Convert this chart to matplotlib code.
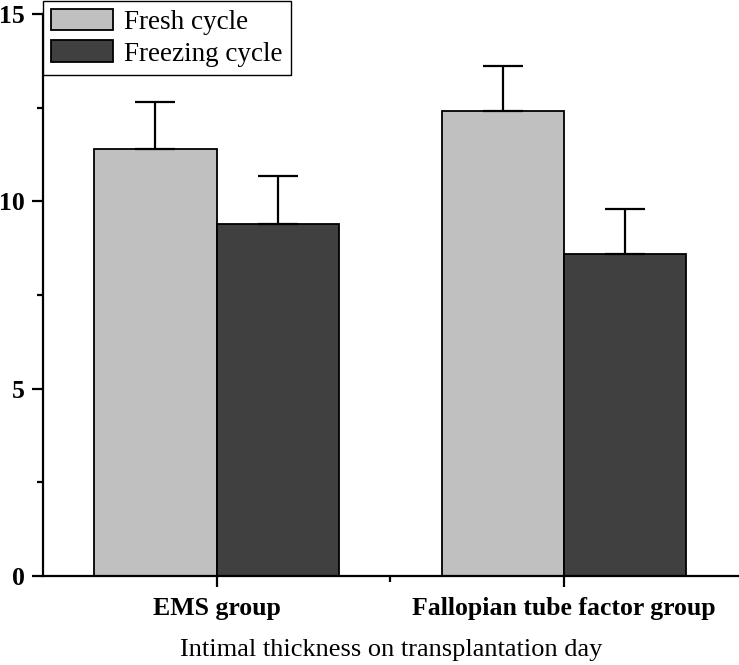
import matplotlib
matplotlib.use("Agg")
from matplotlib import pyplot as plt
from matplotlib.ticker import MultipleLocator, FixedLocator
import numpy as np

plt.rcParams['font.family'] = ['Liberation Serif', 'DejaVu Serif']

groups = ["EMS group", "Fallopian tube factor group"]
fresh = [11.4, 12.4]
fresh_err = [1.26, 1.21]
freezing = [9.39, 8.6]
freezing_err = [1.29, 1.2]
series_names = ["Fresh cycle", "Freezing cycle"]

fig = plt.figure(figsize=(7.39, 6.65), dpi=100)
ax = fig.add_axes([43/739, 1 - 576/665, 696/739, 562/665])

x = np.arange(1, len(groups) + 1)
w = 0.352
ax.bar(x - w/2, fresh, w, color='#c0c0c0', edgecolor='black', linewidth=1.3,
       label=series_names[0], zorder=2)
ax.bar(x + w/2, freezing, w, color='#404040', edgecolor='black', linewidth=1.3,
       label=series_names[1], zorder=2)
ax.errorbar(x - w/2, fresh, yerr=[np.zeros(2), fresh_err], fmt='none',
            ecolor='black', elinewidth=1.6, capsize=14.5, capthick=1.6, zorder=3)
ax.errorbar(x + w/2, freezing, yerr=[np.zeros(2), freezing_err], fmt='none',
            ecolor='black', elinewidth=1.6, capsize=14.5, capthick=1.6, zorder=3)

ax.set_xlim(0.5, 2.505)
ax.set_ylim(0, 15)
ax.spines['top'].set_visible(False)
ax.spines['right'].set_visible(False)
ax.spines['left'].set_linewidth(1.6)
ax.spines['bottom'].set_linewidth(1.6)

ax.set_xticks(x)
ax.set_xticklabels(groups, fontsize=18.5, fontweight='bold')
ax.xaxis.set_minor_locator(FixedLocator([1.5]))
ax.yaxis.set_major_locator(MultipleLocator(5))
ax.yaxis.set_minor_locator(MultipleLocator(2.5))
for lbl in ax.get_yticklabels():
    lbl.set_fontweight('bold')
    lbl.set_fontsize(18.5)
ax.tick_params(axis='both', which='major', direction='out', length=8, width=1.6, pad=5)
ax.tick_params(axis='both', which='minor', direction='out', length=4, width=1.6)
ax.tick_params(axis='x', which='major', pad=7)
ax.set_xlabel("Intimal thickness on transplantation day", fontsize=19, labelpad=14)

leg = ax.legend(loc='upper left', bbox_to_anchor=(43/739, 0.999),
                bbox_transform=fig.transFigure, borderaxespad=0,
                fontsize=19.5, handlelength=2.3, handleheight=0.85,
                fancybox=False, framealpha=1, edgecolor='black',
                borderpad=0.3, labelspacing=0.2, handletextpad=0.4)
leg.get_frame().set_linewidth(1.0)

fig.savefig("out.png", dpi=100)
